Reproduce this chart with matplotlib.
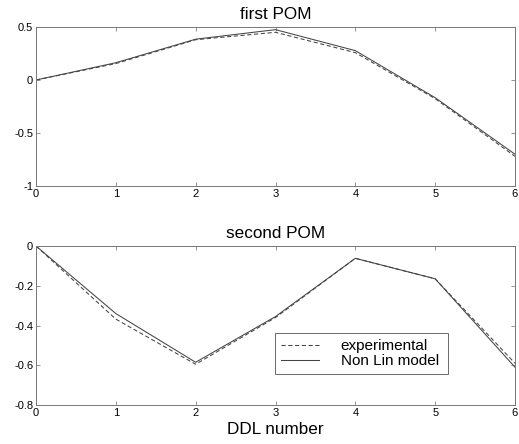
import matplotlib
matplotlib.use("Agg")
import matplotlib.pyplot as plt

plt.rcParams['font.family'] = ['Liberation Sans', 'DejaVu Sans']

ddl = [0, 1, 2, 3, 4, 5, 6]
pom1_exp = [0.0, 0.155, 0.38, 0.45, 0.258, -0.176, -0.72]
pom1_model = [0.0, 0.163, 0.385, 0.475, 0.277, -0.167, -0.70]
pom2_exp = [0.0, -0.368, -0.595, -0.36, -0.062, -0.165, -0.59]
pom2_model = [0.0, -0.34, -0.585, -0.355, -0.062, -0.165, -0.61]

fig = plt.figure(figsize=(5.19, 4.44), dpi=100)
W, H = 519, 444
ax1 = fig.add_axes([36 / W, 1 - 186 / H, 479 / W, 159 / H])
ax2 = fig.add_axes([36 / W, 1 - 405 / H, 479 / W, 159 / H])

lc = '#444444'
for ax, e, m, title, ylim, yt in [
    (ax1, pom1_exp, pom1_model, 'first POM', (-1, 0.5), [-1, -0.5, 0, 0.5]),
    (ax2, pom2_exp, pom2_model, 'second POM', (-0.8, 0), [-0.8, -0.6, -0.4, -0.2, 0]),
]:
    ax.plot(ddl, e, '--', color=lc, lw=0.75, dashes=(4, 2.5), label='experimental')
    ax.plot(ddl, m, '-', color=lc, lw=0.75, label='Non Lin model')
    ax.set_xlim(0, 6)
    ax.set_ylim(*ylim)
    ax.set_xticks(ddl)
    ax.set_yticks(yt)
    ax.set_yticklabels([('%g' % v) for v in yt])
    ax.tick_params(direction='in', top=True, right=True, labelsize=8, length=3,
                   width=0.5, pad=2, color='#666666')
    for s in ax.spines.values():
        s.set_linewidth(0.7)
        s.set_color('#777777')
    ax.set_title(title, fontsize=12.3, pad=6)

ax2.set_xlabel('DDL number', fontsize=12.3, labelpad=3)
leg = ax2.legend(loc='upper left', bbox_to_anchor=(239 / 479, 72 / 159, 173 / 479, 0),
                 mode='expand', fontsize=11, frameon=True, fancybox=False,
                 handlelength=2.5, borderpad=0.4, borderaxespad=0, labelspacing=0.05,
                 handletextpad=1.4)
leg.get_frame().set_edgecolor('#444444')
leg.get_frame().set_linewidth(0.7)

fig.savefig('out.png', dpi=100)
